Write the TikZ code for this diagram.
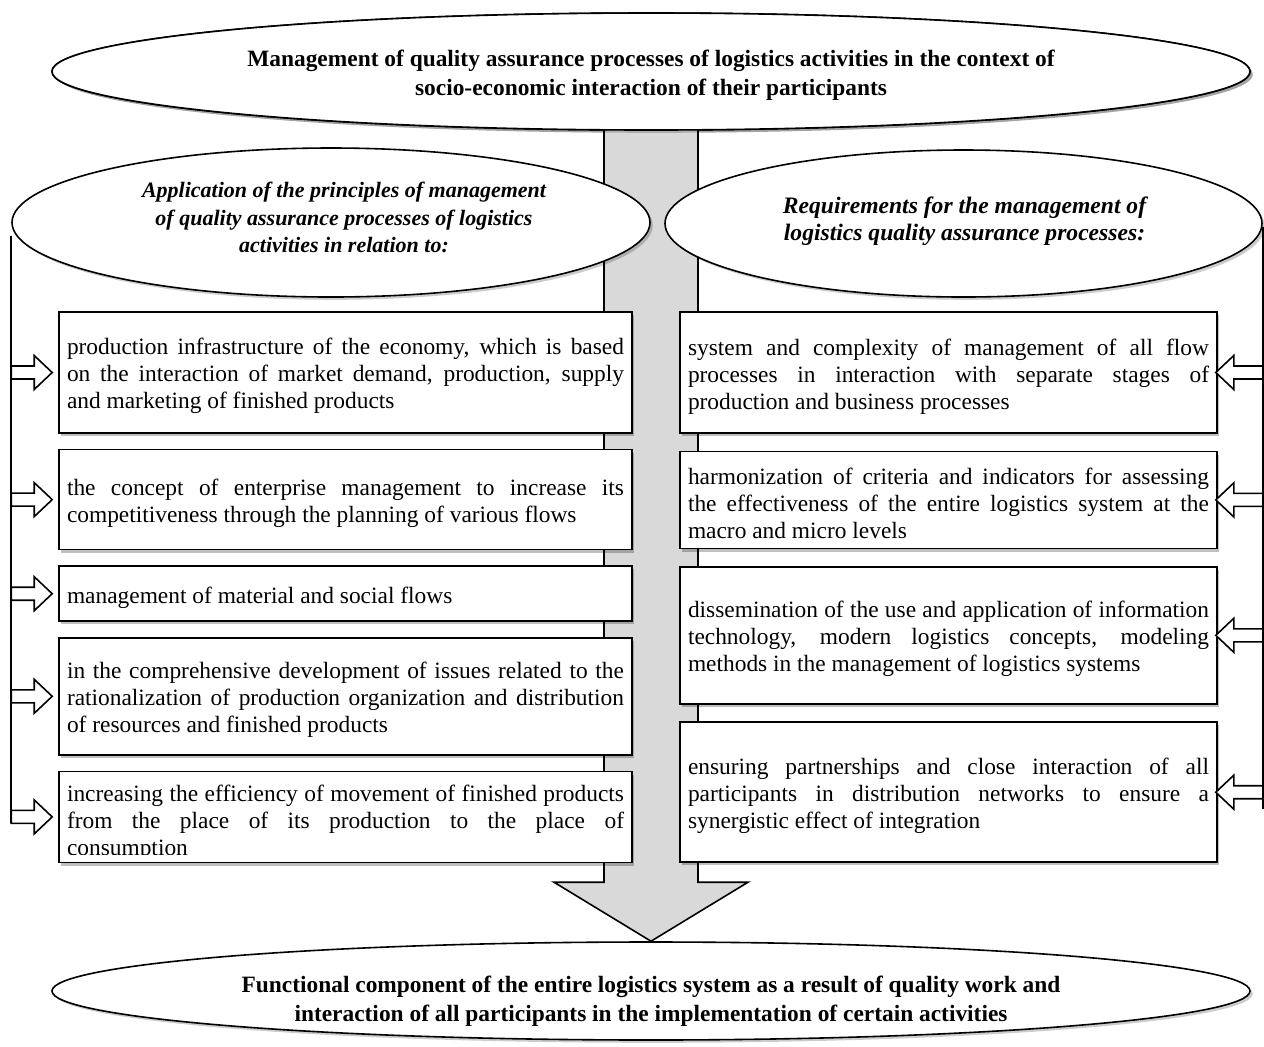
\documentclass[tikz,border=0pt]{standalone}
\usepackage{fontspec}
\setmainfont{Liberation Serif}
\usetikzlibrary{
  calc,
  positioning,
  shadows,
  shapes.geometric,
}
\newcommand{\boxfont}{\fontsize{11.7}{13.5}\selectfont}
\newcommand{\headfont}{\fontsize{11.7}{14.5}\selectfont\bfseries}
\newcommand{\sidefont}{\fontsize{11}{13.75}\selectfont\bfseries\itshape}
\newcommand{\sidefontr}{\fontsize{11.8}{13.5}\selectfont\bfseries\itshape}
\definecolor{shaftgray}{RGB}{217,217,217}
\tikzstyle{oval} = [
  draw,
  ellipse,
  fill=white,
  line width=0.8pt,
  inner sep=0pt,
  drop shadow={shadow xshift=1.4pt,shadow yshift=-1.4pt,fill=black,opacity=0.2},
]
\tikzstyle{ovaltext} = [inner sep=0pt, align=center]
\tikzstyle{boxtext} = [
  rectangle,
  inner sep=4pt,
  text width=278.5pt,
  align=justify,
  font=\boxfont,
]
\tikzstyle{lbox} = [
  boxtext,
  draw,
  fill=white,
  line width=0.8pt,
  execute at begin node={\rule{0pt}{12pt}},
  drop shadow={shadow xshift=1.2pt,shadow yshift=-1.6pt,fill=black,opacity=0.25},
]
\tikzstyle{rbox} = [lbox, text width=260.5pt]
\tikzstyle{link} = [line width=0.8pt]
\tikzstyle{shaft} = [draw, fill=shaftgray, line width=0.8pt]
\tikzset{
  harrow/.pic={
    \draw[link,fill=white] (0,-6.5) -- ({#1-18},-6.5) -- ({#1-18},-17) -- (#1,0)
      -- ({#1-18},17) -- ({#1-18},6.5) -- (0,6.5) -- cycle;
  },
}

\begin{document}
\begin{tikzpicture}[x=0.5pt,y=-0.5pt,node distance=7.5pt]
  \useasboundingbox (0,0) rectangle (1264,1046);

  % ellipses at top and bottom
  \node[oval,minimum width=599pt,minimum height=58.5pt] (top) at (651,71.5) {};
  \node[oval,minimum width=599pt,minimum height=49pt] (bot) at (651,991) {};

  % big grey arrow
  \draw[shaft] ($(top.south)+(-47,-20)$) -- ($(bot.north)+(-47,-59)$) -- ($(bot.north)+(-97,-59)$)
    -- (bot.north) -- ($(bot.north)+(97,-59)$) -- ($(bot.north)+(47,-59)$)
    -- ($(top.south)+(47,-20)$) -- cycle;
  \node[oval,minimum width=599pt,minimum height=58.5pt] (topcover) at (top) {};
  \node[ovaltext,font=\headfont] (toptext) at ($(top.center)+(0,4)$)
    {Management of quality assurance processes of logistics activities in the context of\\
     socio-economic interaction of their participants};
  \node[ovaltext,font=\headfont] (bottext) at ($(bot.center)+(0,10)$)
    {Functional component of the entire logistics system as a result of quality work and\\
     interaction of all participants in the implementation of certain activities};

  % side ellipses
  \node[oval,minimum width=319pt,minimum height=74.5pt] (lell) at (331,222.5) {};
  \node[oval,minimum width=298.5pt,minimum height=73.5pt] (rell) at (963.5,223.5) {};
  \node[ovaltext,font=\sidefont] (ltext) at ($(lell.center)+(13,-5)$)
    {Application of the principles of management\\
     of quality assurance processes of logistics\\
     activities in relation to:};
  \node[ovaltext,font=\sidefontr] (rtext) at ($(rell.center)+(1,-2)$)
    {Requirements for the management of\\
     logistics quality assurance processes:};

  % left column
  \node[lbox,minimum height=60.5pt] (l1) at (345.5,372.5)
    {production infrastructure of the economy, which is based \linebreak
     on the interaction of market demand, production, supply \linebreak
     and marketing of finished products};
  \node[lbox,minimum height=50pt] (l2) [below=of l1]
    {the concept of enterprise management to increase its \linebreak
     competitiveness through the planning of various flows};
  \node[lbox,minimum height=27.5pt] (l3) [below=of l2]
    {management of material and social flows};
  \node[lbox,minimum height=58.5pt] (l4) [below=of l3]
    {in the comprehensive development of issues related to the \linebreak
     rationalization of production organization and distribution \linebreak
     of resources and finished products};
  \node[lbox,minimum height=45.5pt] (l5) [below=of l4] {};
  \begin{scope}
    \clip (l5.north west) rectangle ($(l5.south east)+(0,-9)$);
    \node[boxtext,anchor=north] (l5text) at ($(l5.north)+(0,6)$)
      {increasing the efficiency of movement of finished products \linebreak
       from the place of its production to the place of \linebreak
       consumption};
  \end{scope}

  % right column
  \node[rbox,minimum height=60.5pt] (r1) at (948.5,372.5)
    {system and complexity of management of all flow \linebreak
     processes in interaction with separate stages of \linebreak
     production and business processes};
  \node[rbox,minimum height=48.5pt] (r2) [below=8.4pt of r1]
    {harmonization of criteria and indicators for assessing \linebreak
     the effectiveness of the entire logistics system at the \linebreak
     macro and micro levels};
  \node[rbox,minimum height=68.5pt] (r3) [below=8.4pt of r2]
    {dissemination of the use and application of information \linebreak
     technology, modern logistics concepts, modeling \linebreak
     methods in the management of logistics systems};
  \node[rbox,minimum height=70pt] (r4) [below=8.4pt of r3]
    {ensuring partnerships and close interaction of all \linebreak
     participants in distribution networks to ensure a \linebreak
     synergistic effect of integration};

  % connectors
  \draw[link] ($(lell.west)+(0,13)$) -- ($(lell.west |- l5.west)+(0,6.5)$);
  \draw[link] ($(rell.east)+(0,3)$) -- ($(rell.east |- r4.east)+(0,17)$);
  \foreach \n in {l1,l2,l3,l4,l5}
    \pic at (lell.west |- \n.west) {harrow=41};
  \foreach \n in {r1,r2,r3,r4}
    \pic[rotate=180] at (rell.east |- \n.east) {harrow=47};

\end{tikzpicture}
\end{document}
